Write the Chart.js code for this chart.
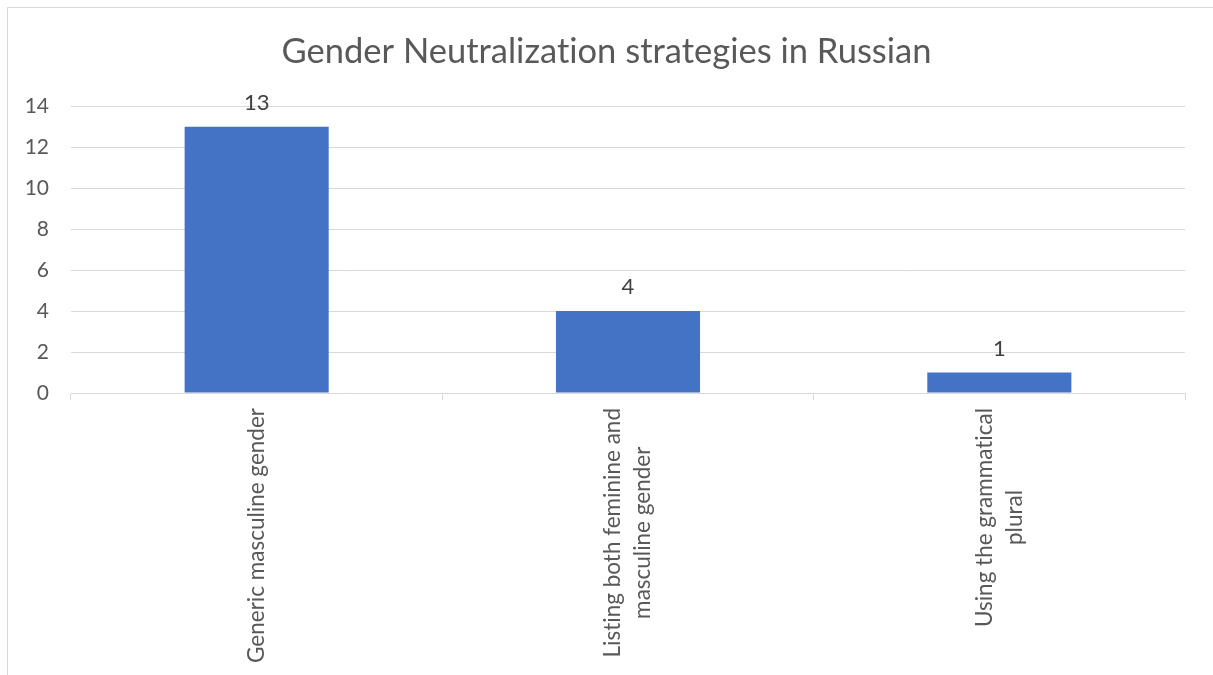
<!DOCTYPE html>
<html>
<head>
<meta charset="utf-8">
<script src="https://cdn.jsdelivr.net/npm/chart.js@4.4.1/dist/chart.umd.min.js"></script>
<style>
  html, body { margin: 0; padding: 0; background: #fff; overflow: hidden; }
  #wrap { position: relative; width: 1213px; height: 675px; }
  #frame { position: absolute; left: 7px; top: 7px; width: 1220px; height: 700px; border: 1px solid #d9d9d9; box-sizing: border-box; }
  canvas { position: absolute; left: 0; top: 0; }
</style>
</head>
<body>
<div id="wrap">
  <div id="frame"></div>
  <canvas id="chart" width="1213" height="675"></canvas>
</div>
<script>
// donnees
const categories = [
  ["Generic masculine gender"],
  ["Listing both feminine and", "masculine gender"],
  ["Using the grammatical", "plural"]
];
const counts = [13, 4, 1];
const yTicks = [0, 2, 4, 6, 8, 10, 12, 14];

const FONT = "Lato, 'Open Sans', sans-serif";
const GREY = "#595959";

// pas de ligatures (ti) comme dans l'original
const noLigatures = {
  id: "noLigatures",
  beforeDraw(chart) { chart.ctx.textRendering = "optimizeSpeed"; }
};

// etiquettes de valeur au dessus des barres
const valueLabels = {
  id: "valueLabels",
  afterDatasetsDraw(chart) {
    const ctx = chart.ctx;
    const meta = chart.getDatasetMeta(0);
    ctx.save();
    ctx.font = "22px " + FONT;
    ctx.fillStyle = "#404040";
    ctx.textAlign = "center";
    ctx.textBaseline = "middle";
    meta.data.forEach((bar, i) => {
      ctx.fillText(String(counts[i]), bar.x, bar.y - 24);
    });
    ctx.restore();
  }
};

// etiquettes de categories tournees, lignes centrees
const rotatedLabels = {
  id: "rotatedLabels",
  afterDraw(chart) {
    const ctx = chart.ctx;
    const xs = chart.scales.x;
    const top = xs.top + 15;
    ctx.save();
    ctx.font = "22.5px " + FONT;
    ctx.fillStyle = GREY;
    ctx.textAlign = "center";
    ctx.textBaseline = "middle";
    categories.forEach((lines, i) => {
      const x = xs.getPixelForValue(i);
      const maxLen = Math.max(...lines.map(l => ctx.measureText(l).width));
      const lh = 30;
      ctx.save();
      ctx.translate(x, top + maxLen / 2);
      ctx.rotate(-Math.PI / 2);
      lines.forEach((l, j) => {
        ctx.fillText(l, 0, (j - (lines.length - 1) / 2) * lh);
      });
      ctx.restore();
    });
    ctx.restore();
  }
};

new Chart(document.getElementById("chart"), {
  type: "bar",
  data: {
    labels: categories,
    datasets: [{
      data: counts,
      backgroundColor: "#4472C4",
      categoryPercentage: 1,
      barPercentage: 0.388
    }]
  },
  options: {
    responsive: false,
    animation: false,
    layout: { padding: 0 },
    plugins: {
      legend: { display: false },
      tooltip: { enabled: false },
      title: {
        display: true,
        text: "Gender Neutralization strategies in Russian",
        color: GREY,
        font: { family: FONT, size: 34.5, weight: "normal", lineHeight: 1.2 },
        padding: { top: 31, bottom: 34 }
      }
    },
    scales: {
      x: {
        ticks: { display: false },
        grid: { offset: true, drawOnChartArea: false, drawTicks: true, tickLength: 7, color: "#d9d9d9" },
        border: { color: "#d9d9d9", width: 1 },
        afterFit(scale) { scale.height = 675 - 393; }
      },
      y: {
        min: 0,
        max: 14,
        afterBuildTicks(scale) { scale.ticks = yTicks.map(v => ({ value: v })); },
        ticks: { color: GREY, font: { family: FONT, size: 21 }, padding: 22 },
        grid: { color: "#d9d9d9", drawTicks: false },
        border: { display: false },
        afterFit(scale) { scale.width = 71; }
      },
      // marge droite vide, pour que le titre soit centre sur toute la largeur
      marge: {
        position: "right",
        ticks: { display: false },
        grid: { display: false },
        border: { display: false },
        afterFit(scale) { scale.width = 28; }
      }
    }
  },
  plugins: [noLigatures, valueLabels, rotatedLabels]
});
</script>
</body>
</html>
